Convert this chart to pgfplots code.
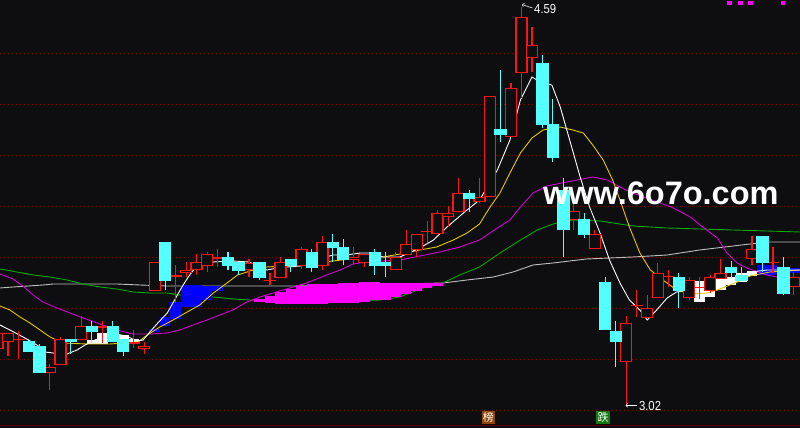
\documentclass[border=0pt]{standalone}
\usepackage{pgfplots}
\pgfplotsset{compat=1.18}
\usepackage{pgfplotstable}
\usepackage{fontspec}
\setmainfont{Liberation Sans}
\newfontfamily\cjk{Noto Sans CJK SC}

\definecolor{bg}{RGB}{14,14,16}
\definecolor{upred}{RGB}{250,20,20}
\definecolor{dncyan}{RGB}{84,255,255}
\definecolor{ma10}{RGB}{230,200,0}
\definecolor{ma20}{RGB}{210,0,210}
\definecolor{ma30}{RGB}{0,170,0}
\definecolor{ma60}{RGB}{190,190,190}
\definecolor{gridred}{RGB}{130,0,0}
\definecolor{bandblue}{RGB}{0,0,255}
\definecolor{bandmag}{RGB}{255,0,255}
\definecolor{tagbrown}{RGB}{140,70,10}
\definecolor{taggreen}{RGB}{20,120,20}

% candles, y in screen rows (0 = top), x = candle index
\pgfplotstableread{
k top bot hi lo
0 333 349 330 352
1 333 342 333 356
2 338.5 340 331 359
5 367 373 364 390
6 339 365 337 365
8 326 340 316 340
10 326 328 321 343
13 342 343.5 330 348
14 346 349 342 354
15 262 291 262 291
17 275 277 265 303
18 270 273 262 277
19 262 270 254 275
20 254 266 252 272
21 257 259 249 267
24 263 270 259 277
26 279.5 281 273 285
27 262 278 257 278
29 249 266 247 269
31 242 266 236 270
34 257 260 247 265
35 254 263 254 267
38 257 270 252 270
39 244 255 230 255
40 234 250 234 257
41 230.5 232 221 243
42 213 234 210 234
43 213 217 206 227
44 193 212 178 212
46 197 202 178 203
47 96 197 96 197
49 88 137 83 137
50 17 73 6.7 98
51 45 58 27 72
55 211 220 203 230
57 234 249 230 249
60 323 362 316 406
61 304.5 306 290 317
62 308 318 295 318
63 273 298 263 298
64 275.5 277 270 287
66 280 298 277 300
67 286.5 288 277 299
68 277 291 275 293
69 273 279 259 279
72 249 259 236 265
74 261.5 263 247 273
76 277 287 272 295
}\redc

\pgfplotstableread{
k top bot hi lo
3 341 352 339 352
4 346 373 344 373
7 339 342 339 354
9 326 332 321 343
11 326 342 321 342
12 339 352 339 356
16 242 281 242 290
22 257 266 252 270
23 262 271 262 275
25 262 278 262 280
28 259 266 259 272
30 252 268 249 272
32 242 248 234 262
33 247 260 239 265
36 252 266 249 275
37 262 266 252 277
45 193 199 190 212
48 129 135 70 142
52 63 125 55 128
53 124 158 99 162
54 190 230 178 257
56 219 235 213 238
58 282 330 277 330
59 331 342 321 367
65 277 291 273 308
70 267 273 261 278
71 275 281 267 281
73 236 263 236 272
75 267 294 257 295
}\cyanc

\pgfplotstableread{
k a b
9 340 344
10 333 344
11 333 342
12 335 342
13 339 344
67 281 302
68 282 297
69 279 290
70 277 285
71 273 282
72 271 276
}\whiteband

\pgfplotstableread{
k a b
15 329 332
16 317 326
17 302 319
18 285 307
19 285 307
20 286 300
21 286 291
73 265 275
74 265 275
75 268 273
76 268 273
}\blueband

\pgfplotstableread{
k a b
25 299 302
26 296 303
27 292 304
28 289 304
29 286 304
30 284 304
31 283.5 303.5
32 283.5 303
33 283 303
34 283 302.5
35 282 302
36 282 300
37 282.5 299.5
38 283 297
39 283 294
40 283 291
41 283 288
42 283 285.5
}\magband

\pgfplotsset{
  vbar/.style 2 args={draw=none, mark=none, forget plot,
    error bars/.cd, y dir=both, y explicit, error mark=none,
    error bar style={draw=#1, line width=#2}},
}

\begin{document}
\begin{tikzpicture}
\useasboundingbox (0,0) rectangle (800pt,428pt);
\fill[bg] (0,0) rectangle (800pt,428pt);
\begin{axis}[
  at={(0,0)}, anchor=south west,
  width=800pt, height=428pt, scale only axis,
  xmin=0.2385, xmax=76.58, ymin=0, ymax=428, y dir=reverse,
  axis line style={draw=none},
  xtick=\empty,
  ytick={53,104,155,206.5,257.5,308.5,359.5,410.5},
  yticklabels={}, major tick length=0pt,
  ymajorgrids,
  major grid style={gridred, line width=0.9pt, dash pattern=on 1pt off 3pt},
]

% long averages
\addplot[ma60, line width=0.9pt, forget plot] coordinates {
(0.24,288) (1.48,287) (4.34,285) (5.3,284) (11.4,284) (13.6,285) (16.2,286)
(28.2,286) (38.4,284) (42.5,283) (44.8,280) (47.3,277) (49.2,272) (51.1,265)
(53.0,263) (56.2,259) (60.6,257) (63.9,255) (67.0,250) (70.2,246) (73.4,242) (76.6,242)};
\addplot[ma30, line width=0.9pt, forget plot] coordinates {
(0.24,269) (1.86,272) (3.39,275) (5.01,277) (6.63,280) (8.16,284) (9.78,287)
(11.4,289) (12.93,292) (14.55,293) (16.17,293) (17.4,295) (20.6,297) (22.5,299)
(24.1,300) (28.9,302) (33.6,301) (36.5,300) (38.4,297) (39.6,292) (40.6,288)
(41.5,286) (42.5,283) (44.1,275) (46.0,267) (47.95,253) (49.9,240) (51.5,230)
(53.0,224) (54.9,220) (57.5,221) (60.6,226) (63.9,228) (67.0,229) (70.2,230)
(73.4,231) (76.6,232)};

% bands
\addplot[vbar={bandmag}{10.6pt}] table[x=k, y=a, y error plus expr={\thisrow{b}-\thisrow{a}}, y error minus expr={0}] {\magband};
\addplot[vbar={bandblue}{10.6pt}] table[x=k, y=a, y error plus expr={\thisrow{b}-\thisrow{a}}, y error minus expr={0}] {\blueband};
\addplot[vbar={white}{10.6pt}] table[x=k, y=a, y error plus expr={\thisrow{b}-\thisrow{a}}, y error minus expr={0}] {\whiteband};

% short averages
\addplot[ma20, line width=0.9pt, forget plot] coordinates {
(0.24,274) (1.48,279) (2.43,286) (3.39,295) (4.34,302) (5.68,308) (6.92,313)
(8.16,318) (9.78,324) (11.4,330) (12.93,334) (14.55,334) (16.17,333) (17.4,330)
(18.65,325) (19.99,320) (21.23,315) (22.47,310) (23.8,302) (25.05,297) (27.24,290)
(29.5,283) (31.4,275) (32.7,270) (33.9,264) (35.3,262) (36.8,261) (38.4,260)
(40.3,256) (42.2,252) (44.1,247) (46.0,240) (47.7,228) (48.9,220) (49.9,207)
(51.1,193) (52.4,186) (54.3,182) (56.8,177) (58.2,180) (59.4,187) (60.6,193)
(62.5,200) (64.5,208) (66.1,217) (67.3,227) (68.7,238) (69.6,253) (70.6,263)
(71.5,268) (73.4,275) (74.9,278) (76.6,280)};
\addplot[ma10, line width=0.9pt, forget plot] coordinates {
(0.24,306) (1.19,310) (2.15,317) (3.1,323) (4.06,330) (5.01,337) (6.25,343)
(8.54,344) (10.7,344) (13.4,342) (14.3,335) (15.5,327) (16.75,320) (18.1,312)
(19.3,305) (20.6,293) (21.9,283) (22.9,275) (24.4,270) (25.7,267) (27.2,266)
(28.9,265) (30.5,263) (32.0,261) (33.6,259) (35.3,258) (36.8,257) (38.4,254)
(40.3,250) (41.9,247) (43.5,240) (44.8,233) (46.0,224) (47.0,207) (47.95,193)
(48.9,173) (49.9,153) (51.0,138) (52.05,130) (53.7,127) (54.9,130) (55.9,133)
(56.8,145) (57.8,160) (58.7,180) (59.4,200) (60.3,227) (61.3,253) (62.3,270)
(63.5,280) (64.8,290) (66.1,294) (67.7,293) (68.7,290) (70.6,282) (71.8,276)
(73.7,272) (76.6,270)};
\addplot[white, line width=0.9pt, forget plot] coordinates {
(0.24,325) (1.19,330) (2.62,338) (3.77,345) (4.53,352) (5.3,353) (6.63,354)
(7.59,350) (8.35,345) (9.3,340) (10.3,336) (11.3,334) (12.3,336) (13.3,341)
(13.9,340) (14.7,330) (15.3,323) (16.2,313) (16.9,300) (17.6,287) (18.2,277)
(18.7,270) (19.3,266) (20.6,262) (22.5,261) (24.0,262) (24.8,266) (25.7,270)
(26.7,268) (27.6,267) (28.9,266) (30.1,263) (31.4,257) (32.0,255) (33.3,255)
(34.6,253) (35.5,253) (36.8,257) (38.4,257) (40.3,248) (41.6,240) (42.9,227)
(44.8,210) (46.0,200) (47.7,170) (48.9,140) (49.9,100) (51.0,77) (51.8,82)
(52.9,85) (53.7,107) (54.6,140) (55.6,177) (56.5,207) (57.5,233) (58.4,260)
(59.4,283) (60.3,300) (61.3,310) (62.0,320) (62.9,310) (63.9,298) (64.8,292)
(65.8,290) (66.8,288) (68,285) (69.0,283) (70.2,278) (71.8,272) (73.5,270) (76.6,270)};

% candles: rising ones hollow red, falling ones solid cyan
\addplot[vbar={upred}{1.1pt}] table[x=k, y=hi, y error plus expr={\thisrow{lo}-\thisrow{hi}}, y error minus expr={0}] {\redc};
\addplot[vbar={upred}{12.3pt}] table[x=k, y=top, y error plus expr={\thisrow{bot}-\thisrow{top}}, y error minus expr={0}] {\redc};
\addplot[vbar={bg}{9.7pt}] table[x=k, y expr={\thisrow{top}+1.3}, y error plus expr={max(\thisrow{bot}-\thisrow{top}-2.6,0)}, y error minus expr={0}] {\redc};
\addplot[vbar={dncyan}{1.1pt}] table[x=k, y=hi, y error plus expr={\thisrow{lo}-\thisrow{hi}}, y error minus expr={0}] {\cyanc};
\addplot[vbar={dncyan}{12.3pt}] table[x=k, y=top, y error plus expr={\thisrow{bot}-\thisrow{top}}, y error minus expr={0}] {\cyanc};

% signal dots top right
\addplot[only marks, mark=square*, mark size=1.6pt, color=bandmag, forget plot]
  coordinates {(69.83,2.5) (70.88,2.5) (71.83,2.5) (74.89,2.5)};

% extreme price labels
\draw[white, line width=0.6pt, ->] (axis cs:51.05,8) -- (axis cs:50.05,4.5);
\node[anchor=west, white, inner sep=0pt, font=\fontsize{13}{13}\selectfont]
  at (axis cs:51.2,9.5) {\scalebox{0.87}[1]{4.59}};
\draw[white, line width=0.6pt, ->] (axis cs:61.0,405.3) -- (axis cs:59.94,405.3);
\node[anchor=west, white, inner sep=0pt, font=\fontsize{13}{13}\selectfont]
  at (axis cs:61.2,406) {\scalebox{0.87}[1]{3.02}};

% event tags
\node[fill=tagbrown, text=white, inner sep=0pt, minimum size=13.5pt,
  font=\cjk\fontsize{11}{11}\selectfont] at (axis cs:46.85,417.5) {榜};
\node[fill=taggreen, text=white, inner sep=0pt, minimum size=13.5pt,
  font=\cjk\fontsize{11}{11}\selectfont] at (axis cs:57.8,417.5) {跌};

\draw[gridred!70!black, line width=1pt] (axis cs:0.2385,425.5) -- (axis cs:76.58,425.5);

% watermark
\node[anchor=base west, white, inner sep=0pt,
  font=\bfseries\fontsize{32.5}{32.5}\selectfont] at (axis cs:52.05,204) {www.6o7o.com};
\end{axis}
\end{tikzpicture}
\end{document}
